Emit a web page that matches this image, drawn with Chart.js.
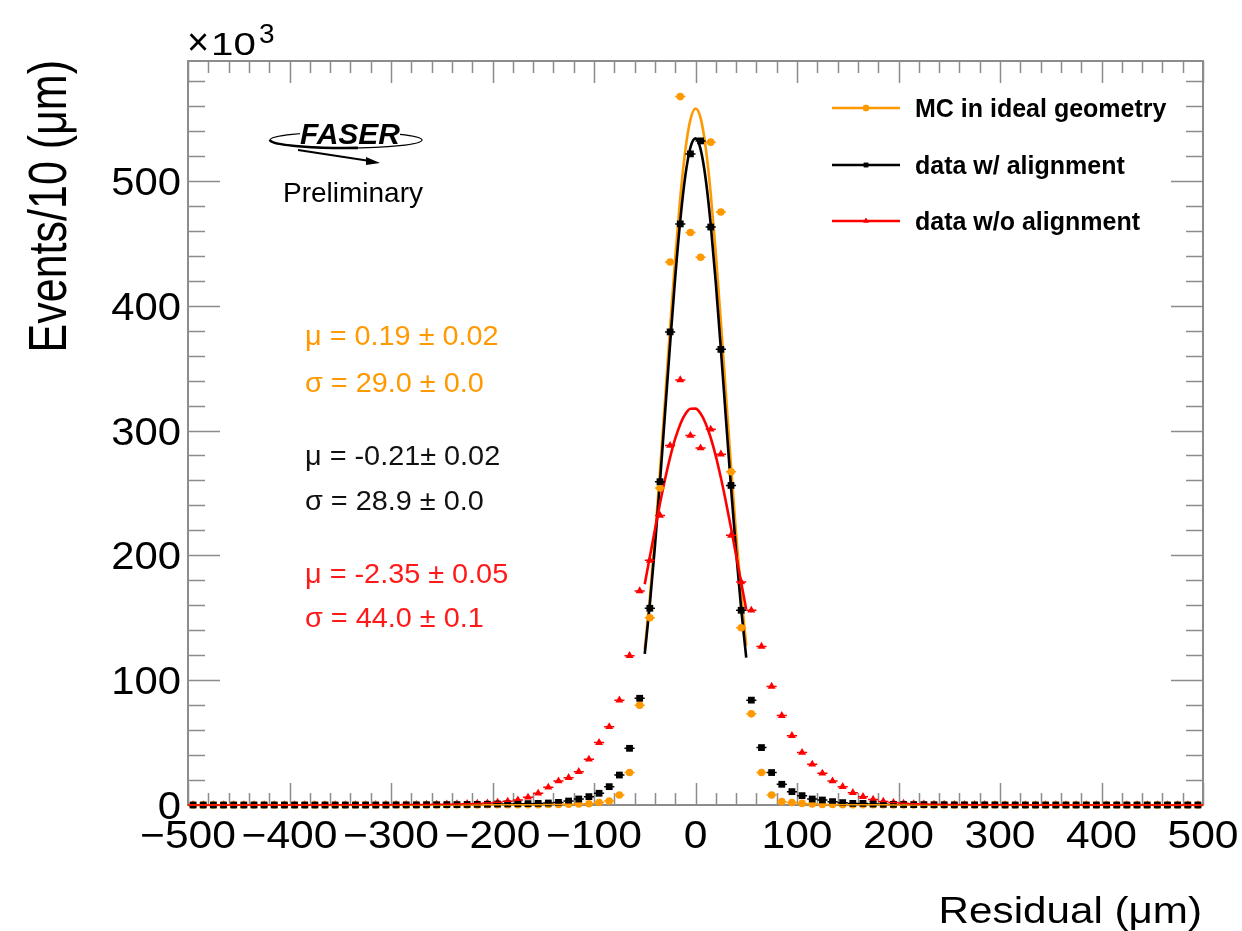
<!DOCTYPE html>
<html>
<head>
<meta charset="utf-8">
<script src="https://cdn.jsdelivr.net/npm/chart.js@4.4.1/dist/chart.umd.min.js"></script>
<style>
  html, body { margin: 0; padding: 0; background: #fff; }
  canvas { display: block; }
</style>
</head>
<body>
<canvas id="residual" width="1242" height="931"></canvas>
<script>
// bin centres, 10 um bins
const binCenters = [
  -495, -485, -475, -465, -455, -445, -435, -425, -415, -405,
  -395, -385, -375, -365, -355, -345, -335, -325, -315, -305,
  -295, -285, -275, -265, -255, -245, -235, -225, -215, -205,
  -195, -185, -175, -165, -155, -145, -135, -125, -115, -105,
  -95, -85, -75, -65, -55, -45, -35, -25, -15, -5,
  5, 15, 25, 35, 45, 55, 65, 75, 85, 95,
  105, 115, 125, 135, 145, 155, 165, 175, 185, 195,
  205, 215, 225, 235, 245, 255, 265, 275, 285, 295,
  305, 315, 325, 335, 345, 355, 365, 375, 385, 395,
  405, 415, 425, 435, 445, 455, 465, 475, 485, 495
];

// events per bin, x10^3
const mcIdeal = [
  0, 0, 0, 0, 0, 0, 0, 0, 0, 0,
  0, 0, 0, 0, 0, 0, 0, 0, 0, 0,
  0, 0, 0, 0, 0, 0.1, 0.1, 0.1, 0.1, 0.2,
  0.2, 0.2, 0.3, 0.3, 0.3, 0.4, 0.5, 0.6, 0.8, 1.0,
  2.0, 3.2, 8, 26, 80, 150, 254, 435, 567.5, 458.6,
  438.8, 531, 475, 267, 142, 73, 26, 8, 2.7, 2.0,
  1.3, 0.8, 0.5, 0.4, 0.3, 0.3, 0.2, 0.2, 0.2, 0.1,
  0.1, 0.1, 0.1, 0, 0, 0, 0, 0, 0, 0,
  0, 0, 0, 0, 0, 0, 0, 0, 0, 0,
  0, 0, 0, 0, 0, 0, 0, 0, 0, 0
];

const dataAligned = [
  0, 0, 0, 0, 0, 0, 0, 0, 0, 0,
  0, 0, 0, 0, 0, 0, 0, 0, 0, 0,
  0.1, 0.1, 0.1, 0.2, 0.2, 0.3, 0.3, 0.4, 0.5, 0.6,
  0.8, 0.9, 1.0, 1.1, 1.3, 1.6, 2.1, 3.2, 4.8, 6.7,
  9.4, 14.7, 24, 45.4, 85.5, 157.6, 259, 379, 465.5, 521.6,
  532, 463, 365, 256, 156, 84, 46, 26, 16.6, 10.7,
  7.5, 4.8, 4.0, 2.7, 1.9, 1.3, 1.3, 0.8, 0.6, 0.5,
  0.4, 0.3, 0.3, 0.2, 0.2, 0.1, 0.1, 0.1, 0.1, 0.1,
  0, 0, 0, 0, 0, 0, 0, 0, 0, 0,
  0, 0, 0, 0, 0, 0, 0, 0, 0, 0
];

const dataUnaligned = [
  0.1, 0.1, 0.1, 0.1, 0.1, 0.1, 0.1, 0.1, 0.1, 0.1,
  0.1, 0.1, 0.1, 0.2, 0.2, 0.2, 0.2, 0.2, 0.3, 0.3,
  0.3, 0.4, 0.4, 0.5, 0.6, 0.7, 0.9, 1.1, 1.3, 1.6,
  2.2, 3.0, 4.0, 6.2, 9.4, 14.2, 19.2, 21.9, 26.7, 36.6,
  50, 62.7, 84, 119.6, 171.5, 196, 232, 288, 340.5, 296,
  286, 301, 281, 216, 178.7, 156, 127, 95, 71.6, 55.5,
  42, 32.6, 25.4, 19.2, 14.7, 9.9, 6.7, 4.5, 2.9, 2.0,
  1.4, 1.0, 0.8, 0.6, 0.5, 0.4, 0.4, 0.3, 0.3, 0.2,
  0.2, 0.2, 0.2, 0.1, 0.1, 0.1, 0.1, 0.1, 0.1, 0.1,
  0.1, 0.1, 0.1, 0.1, 0.1, 0.1, 0.1, 0.1, 0.1, 0.1
];

// gaussian fit curves in the fit range
const fitX = [-50, -45, -40, -35, -30, -25, -20, -15, -10, -5, 0, 5, 10, 15, 20, 25, 30, 35, 40, 45, 50];
const fitMC = [124.8, 165.7, 213.5, 267.2, 324.6, 382.6, 437.9, 486.5, 524.6, 549.1, 558, 550.4, 527.0, 489.8, 441.9, 387.0, 329.0, 271.5, 217.5, 169.1, 127.7];
const fitAligned = [121.1, 160.7, 207.0, 258.7, 313.9, 369.6, 422.4, 468.4, 504.2, 526.7, 534, 525.4, 501.7, 465.0, 418.2, 365.0, 309.2, 254.2, 202.9, 157.1, 118.1];
const fitUnaligned = [176.9, 198.8, 220.5, 241.5, 261.0, 278.5, 293.4, 305.1, 313.2, 317.4, 317.5, 313.6, 305.7, 294.2, 279.5, 262.1, 242.7, 221.8, 200.1, 178.2, 156.7];

const xTicks = [-500, -400, -300, -200, -100, 0, 100, 200, 300, 400, 500];
const yTicks = [0, 100, 200, 300, 400, 500];

const fitResults = [
  { text: 'μ = 0.19 ± 0.02', color: '#ff9900' },
  { text: 'σ = 29.0 ± 0.0', color: '#ff9900' },
  { text: 'μ = -0.21± 0.02', color: '#111111' },
  { text: 'σ = 28.9 ± 0.0', color: '#111111' },
  { text: 'μ = -2.35 ± 0.05', color: '#ff1a1a' },
  { text: 'σ = 44.0 ± 0.1', color: '#ff1a1a' }
];

const ORANGE = '#ff9900';
const BLACK = '#000000';
const RED = '#ff0000';
const FONT = '"Liberation Sans", Arial, Helvetica, sans-serif';
const binHalf = 5;

function pairs(xs, ys) {
  return xs.map((x, i) => ({ x: x, y: ys[i] }));
}

function stretchedText(ctx, text, x, y, size, sx, align, weight) {
  ctx.save();
  ctx.translate(x, y);
  ctx.scale(sx, 1);
  ctx.font = (weight ? weight + ' ' : '') + size + 'px ' + FONT;
  ctx.textAlign = align;
  ctx.textBaseline = 'alphabetic';
  ctx.fillText(text, 0, 0);
  ctx.restore();
}

function fmt(v) {
  return v < 0 ? '\u2212' + Math.abs(v) : String(v);
}

// ROOT style frame with inward ticks on all four sides
const rootFrame = {
  id: 'rootFrame',
  beforeDatasetsDraw(chart) {
    const { ctx, chartArea: a, scales: { x, y } } = chart;
    ctx.save();
    ctx.strokeStyle = '#8c8c8c';
    ctx.lineWidth = 1.5;
    ctx.beginPath();
    for (let v = x.min; v <= x.max; v += 20) {
      const px = Math.round(x.getPixelForValue(v)) + 0.5;
      const len = v % 100 === 0 ? 22 : 12;
      ctx.moveTo(px, a.bottom); ctx.lineTo(px, a.bottom - len);
      ctx.moveTo(px, a.top); ctx.lineTo(px, a.top + len);
    }
    for (let v = 0; v <= y.max; v += 20) {
      const py = Math.round(y.getPixelForValue(v)) + 0.5;
      const len = v % 100 === 0 ? 32 : 17;
      ctx.moveTo(a.left, py); ctx.lineTo(a.left + len, py);
      ctx.moveTo(a.right, py); ctx.lineTo(a.right - len, py);
    }
    ctx.stroke();
    ctx.lineWidth = 2;
    ctx.strokeRect(a.left, a.top, a.right - a.left, a.bottom - a.top);
    ctx.restore();
  },
  afterDatasetsDraw(chart) {
    // horizontal bin-width error bars
    const { ctx, scales: { x, y } } = chart;
    ctx.save();
    chart.data.datasets.forEach((ds) => {
      if (!ds.xErr) return;
      ctx.strokeStyle = ds.borderColor;
      ctx.lineWidth = 1.5;
      ctx.beginPath();
      ds.data.forEach((p) => {
        const py = y.getPixelForValue(p.y);
        ctx.moveTo(x.getPixelForValue(p.x - binHalf), py);
        ctx.lineTo(x.getPixelForValue(p.x + binHalf), py);
      });
      ctx.stroke();
    });
    ctx.restore();
  },
  afterDraw(chart) {
    const { ctx, chartArea: a, scales: { x, y } } = chart;
    ctx.save();
    ctx.fillStyle = '#000';

    // tick labels
    xTicks.forEach((v) => stretchedText(ctx, fmt(v), x.getPixelForValue(v), 848, 38, 1.12, 'center'));
    yTicks.forEach((v) => stretchedText(ctx, fmt(v), 181, y.getPixelForValue(v) + 14, 38, 1.1, 'right'));

    // exponent
    stretchedText(ctx, '×', 187, 55, 38, 1.0, 'left');
    stretchedText(ctx, '10', 211, 55, 32, 1.26, 'left');
    stretchedText(ctx, '3', 259, 43, 28, 1.0, 'left');

    // axis titles
    stretchedText(ctx, 'Residual (μm)', 1202, 923, 37, 1.14, 'right');
    ctx.save();
    ctx.translate(66, 60);
    ctx.scale(1.25, 1);
    ctx.rotate(-Math.PI / 2);
    ctx.font = '43px ' + FONT;
    ctx.textAlign = 'right';
    ctx.fillText('Events/10 (μm)', 0, 0);
    ctx.restore();

    // experiment logo
    ctx.strokeStyle = '#000';
    ctx.lineWidth = 1.2;
    ctx.beginPath();
    ctx.ellipse(346, 140, 76, 8, 0, 0, Math.PI * 2);
    ctx.stroke();
    ctx.lineWidth = 2.6;
    ctx.beginPath();
    ctx.ellipse(346, 140, 76, 8, 0, Math.PI * 0.45, Math.PI * 1.0);
    ctx.stroke();
    ctx.lineWidth = 1.8;
    ctx.beginPath();
    ctx.moveTo(298, 150);
    ctx.lineTo(370, 161);
    ctx.stroke();
    ctx.beginPath();
    ctx.moveTo(380, 163);
    ctx.lineTo(366, 157);
    ctx.lineTo(366, 165);
    ctx.closePath();
    ctx.fill();
    ctx.fillStyle = '#fff';
    ctx.fillRect(300, 121, 100, 17);
    ctx.fillStyle = '#000';
    stretchedText(ctx, 'FASER', 350, 144, 30, 1.0, 'center', 'italic bold');
    stretchedText(ctx, 'Preliminary', 353, 202, 28, 1.0, 'center');

    // fit results
    const rowsY = [345, 392, 465, 510, 583, 627];
    fitResults.forEach((r, i) => {
      ctx.fillStyle = r.color;
      stretchedText(ctx, r.text, 305, rowsY[i], 28, 1.03, 'left');
    });

    // legend
    const legendRows = [108, 165, 221];
    chart.data.datasets.filter((d) => d.legendRow !== undefined).forEach((ds) => {
      const ly = legendRows[ds.legendRow];
      ctx.strokeStyle = ds.borderColor;
      ctx.fillStyle = ds.borderColor;
      ctx.lineWidth = 2.5;
      ctx.beginPath();
      ctx.moveTo(832, ly);
      ctx.lineTo(900, ly);
      ctx.stroke();
      Chart.helpers.drawPoint(ctx, { pointStyle: ds.pointStyle, radius: 3.2, borderWidth: 0 }, 866, ly);
      ctx.fill();
      ctx.fillStyle = '#000';
      stretchedText(ctx, ds.label, 915, ly + 9, 25, 1.0, 'left', 'bold');
    });
    ctx.restore();
  }
};

new Chart(document.getElementById('residual'), {
  type: 'line',
  data: {
    datasets: [
      {
        label: 'data w/ alignment', data: pairs(binCenters, dataAligned), showLine: false,
        pointStyle: 'rect', pointRadius: 4.8, backgroundColor: BLACK, borderColor: BLACK,
        order: 0, xErr: true, legendRow: 1, clip: false
      },
      {
        label: 'MC in ideal geometry', data: pairs(binCenters, mcIdeal), showLine: false,
        pointStyle: 'circle', pointRadius: 3.8, backgroundColor: ORANGE, borderColor: ORANGE,
        order: 1, xErr: true, legendRow: 0, clip: false
      },
      {
        label: 'data w/o alignment', data: pairs(binCenters, dataUnaligned), showLine: false,
        pointStyle: 'triangle', pointRadius: 4.6, backgroundColor: RED, borderColor: RED,
        order: 2, xErr: true, legendRow: 2, clip: false
      },
      {
        label: 'fit w/o alignment', data: pairs(fitX, fitUnaligned), borderColor: RED, borderWidth: 2.6,
        pointRadius: 0, cubicInterpolationMode: 'monotone', order: 3
      },
      {
        label: 'fit w/ alignment', data: pairs(fitX, fitAligned), borderColor: BLACK, borderWidth: 2.6,
        pointRadius: 0, cubicInterpolationMode: 'monotone', order: 4
      },
      {
        label: 'fit MC', data: pairs(fitX, fitMC), borderColor: ORANGE, borderWidth: 2.6,
        pointRadius: 0, cubicInterpolationMode: 'monotone', order: 5
      }
    ]
  },
  options: {
    responsive: false,
    animation: false,
    devicePixelRatio: 1,
    layout: { padding: { left: 188, right: 39, top: 61, bottom: 126 } },
    elements: { point: { borderWidth: 0 } },
    scales: {
      x: { type: 'linear', min: -500, max: 500, display: false },
      y: { type: 'linear', min: 0, max: 596, display: false }
    },
    plugins: {
      legend: { display: false },
      tooltip: { enabled: false }
    }
  },
  plugins: [rootFrame]
});
</script>
</body>
</html>
